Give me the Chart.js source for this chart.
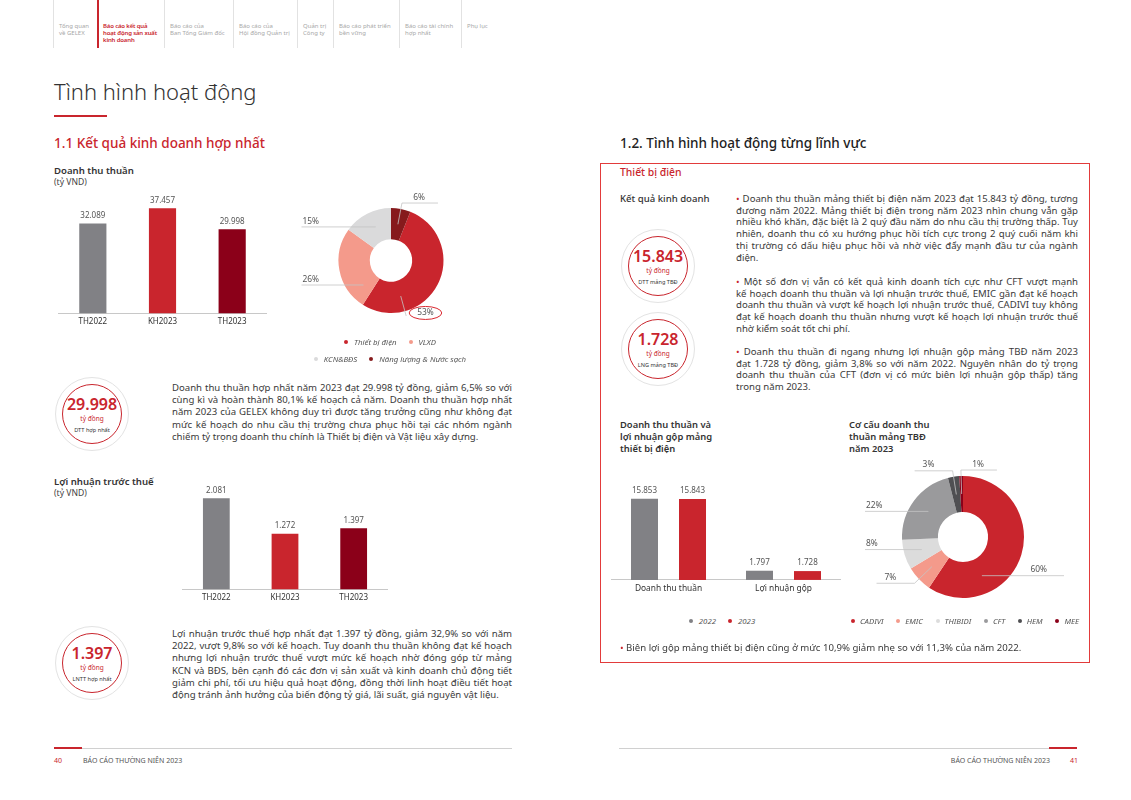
<!DOCTYPE html>
<html>
<head>
<meta charset="utf-8">
<script src="https://cdn.jsdelivr.net/npm/chart.js@4.4.1/dist/chart.umd.min.js"></script>
<style>
  html, body { margin:0; padding:0; background:#fff; }
  body { width:1131px; height:800px; position:relative; overflow:hidden; font-family:'Noto Sans', sans-serif; color:#3a3a3a; }
  .abs { position:absolute; }
  .nav { position:absolute; top:0; height:48px; border-left:1px solid #e2e2e2; padding-left:5px; font-size:6px; line-height:7.2px; color:#a8a8a8; box-sizing:border-box; padding-top:23px; white-space:nowrap; }
  .nav.on { border-left:2px solid #c9252d; color:#c9252d; font-weight:600; letter-spacing:-0.15px; padding-left:4px; }
  .para { position:absolute; font-size:9.6px; line-height:12.2px; color:#3a3a3a; }
  .para .j { text-align:justify; text-align-last:justify; }
  .badge { position:absolute; width:74px; height:74px; border-radius:50%; border:1.2px solid #e3e3e3; box-sizing:border-box; }
  .badge .in { position:absolute; left:6px; top:6px; width:60px; height:60px; border-radius:50%; border:1.2px solid #c9252d; box-sizing:border-box; text-align:center; }
  .badge .num { color:#c9252d; font-weight:600; font-size:16px; line-height:19px; margin-top:10px; }
  .badge .unit { color:#c9252d; font-size:6.5px; line-height:9px; }
  .badge .cap { color:#333; font-size:5.6px; line-height:8px; margin-top:3px; }
  .legend { position:absolute; display:flex; flex-wrap:wrap; justify-content:center; font-size:7.8px; font-style:italic; color:#555; }
  .legend span { display:inline-flex; align-items:center; margin:0 6px; white-space:nowrap; }
  .legend i { display:inline-block; width:4px; height:4px; border-radius:50%; margin-right:6px; }
  .legend b { flex-basis:100%; height:7px; }
  .legend.tight { flex-wrap:nowrap; justify-content:space-between; }
  .legend.tight span { margin:0; }
  .legend.tight i { margin-right:5px; }
  .box { position:absolute; left:600px; top:163px; width:490px; height:500px; border:1px solid #e23b3b; box-sizing:border-box; }
</style>
</head>
<body>

<!-- top navigation -->
<div class="nav" style="left:53px;width:44px">Tổng quan<br>về GELEX</div>
<div class="nav on" style="left:97px;width:67px">Báo cáo kết quả<br>hoạt động sản xuất<br>kinh doanh</div>
<div class="nav" style="left:164px;width:69px">Báo cáo của<br>Ban Tổng Giám đốc</div>
<div class="nav" style="left:233px;width:64px">Báo cáo của<br>Hội đồng Quản trị</div>
<div class="nav" style="left:297px;width:36px">Quản trị<br>Công ty</div>
<div class="nav" style="left:333px;width:66px">Báo cáo phát triển<br>bền vững</div>
<div class="nav" style="left:399px;width:62px">Báo cáo tài chính<br>hợp nhất</div>
<div class="nav" style="left:461px;width:40px">Phụ lục</div>

<div class="abs" style="left:54px;top:76px;font-size:22px;font-weight:300;color:#333;">Tình hình hoạt động</div>
<div class="abs" style="left:54px;top:115px;width:53px;height:2px;background:#c9252d"></div>

<div class="abs" style="left:54px;top:134px;font-size:13.5px;color:#c9252d;font-weight:500">1.1 Kết quả kinh doanh hợp nhất</div>
<div class="abs" style="left:620px;top:134px;font-size:13.5px;color:#222;font-weight:500">1.2. Tình hình hoạt động từng lĩnh vực</div>

<!-- left: DTT -->
<div class="abs" style="left:54px;top:164px;font-size:9.6px;font-weight:600;color:#333">Doanh thu thuần</div>
<div class="abs" style="left:54px;top:176px;font-size:8.6px;color:#444">(tỷ VND)</div>
<div class="abs" style="left:58px;top:190px;width:209px;height:141px"><canvas id="dtt"></canvas></div>

<div class="abs" style="left:291px;top:180px;width:200px;height:161px"><canvas id="seg"></canvas></div>
<div class="legend" id="segLeg" style="left:285px;top:337px;width:210px"></div>

<div class="badge" style="left:55px;top:377px"><div class="in"><div class="num">29.998</div><div class="unit">tỷ đồng</div><div class="cap">DTT hợp nhất</div></div></div>
<div class="para" style="left:172px;top:382px;width:340px">
  <div class="j">Doanh thu thuần hợp nhất năm 2023 đạt 29.998 tỷ đồng, giảm 6,5% so với</div>
  <div class="j">cùng kì và hoàn thành 80,1% kế hoạch cả năm. Doanh thu thuần hợp nhất</div>
  <div class="j">năm 2023 của GELEX không duy trì được tăng trưởng cũng như không đạt</div>
  <div class="j">mức kế hoạch do nhu cầu thị trường chưa phục hồi tại các nhóm ngành</div>
  <div>chiếm tỷ trọng doanh thu chính là Thiết bị điện và Vật liệu xây dựng.</div>
</div>

<!-- left: LNTT -->
<div class="abs" style="left:54px;top:475px;font-size:9.6px;font-weight:600;color:#333">Lợi nhuận trước thuế</div>
<div class="abs" style="left:54px;top:487px;font-size:8.6px;color:#444">(tỷ VND)</div>
<div class="abs" style="left:182px;top:480px;width:206px;height:127px"><canvas id="lntt"></canvas></div>

<div class="badge" style="left:55px;top:626px"><div class="in"><div class="num">1.397</div><div class="unit">tỷ đồng</div><div class="cap">LNTT hợp nhất</div></div></div>
<div class="para" style="left:172px;top:628px;width:340px">
  <div class="j">Lợi nhuận trước thuế hợp nhất đạt 1.397 tỷ đồng, giảm 32,9% so với năm</div>
  <div class="j">2022, vượt 9,8% so với kế hoạch. Tuy doanh thu thuần không đạt kế hoạch</div>
  <div class="j">nhưng lợi nhuận trước thuế vượt mức kế hoạch nhờ đóng góp từ mảng</div>
  <div class="j">KCN và BĐS, bên cạnh đó các đơn vị sản xuất và kinh doanh chủ động tiết</div>
  <div class="j">giảm chi phí, tối ưu hiệu quả hoạt động, đồng thời linh hoạt điều tiết hoạt</div>
  <div>động tránh ảnh hưởng của biến động tỷ giá, lãi suất, giá nguyên vật liệu.</div>
</div>

<!-- right box -->
<div class="box"></div>
<div class="abs" style="left:620px;top:165px;font-size:10.4px;color:#c9252d;font-weight:500">Thiết bị điện</div>
<div class="abs" style="left:620px;top:192px;font-size:9.6px;color:#333;font-weight:500">Kết quả kinh doanh</div>

<div class="badge" style="left:621px;top:229px"><div class="in"><div class="num">15.843</div><div class="unit">tỷ đồng</div><div class="cap">DTT mảng TBĐ</div></div></div>
<div class="badge" style="left:621px;top:312px"><div class="in"><div class="num">1.728</div><div class="unit">tỷ đồng</div><div class="cap">LNG mảng TBĐ</div></div></div>

<div class="para" style="left:736px;top:193px;width:342px;line-height:11.7px">
  <div class="j"><span style="color:#c9252d">•</span> Doanh thu thuần mảng thiết bị điện năm 2023 đạt 15.843 tỷ đồng, tương</div>
  <div class="j">đương năm 2022. Mảng thiết bị điện trong năm 2023 nhìn chung vẫn gặp</div>
  <div class="j">nhiều khó khăn, đặc biệt là 2 quý đầu năm do nhu cầu thị trường thấp. Tuy</div>
  <div class="j">nhiên, doanh thu có xu hướng phục hồi tích cực trong 2 quý cuối năm khi</div>
  <div class="j">thị trường có dấu hiệu phục hồi và nhờ việc đẩy mạnh đầu tư của ngành</div>
  <div>điện.</div>
</div>
<div class="para" style="left:736px;top:276px;width:342px;line-height:11.7px">
  <div class="j"><span style="color:#c9252d">•</span> Một số đơn vị vẫn có kết quả kinh doanh tích cực như CFT vượt mạnh</div>
  <div class="j">kế hoạch doanh thu thuần và lợi nhuận trước thuế, EMIC gần đạt kế hoạch</div>
  <div class="j">doanh thu thuần và vượt kế hoạch lợi nhuận trước thuế, CADIVI tuy không</div>
  <div class="j">đạt kế hoạch doanh thu thuần nhưng vượt kế hoạch lợi nhuận trước thuế</div>
  <div>nhờ kiểm soát tốt chi phí.</div>
</div>
<div class="para" style="left:736px;top:346px;width:342px;line-height:11.7px">
  <div class="j"><span style="color:#c9252d">•</span> Doanh thu thuần đi ngang nhưng lợi nhuận gộp mảng TBĐ năm 2023</div>
  <div class="j">đạt 1.728 tỷ đồng, giảm 3,8% so với năm 2022. Nguyên nhân do tỷ trọng</div>
  <div class="j">doanh thu thuần của CFT (đơn vị có mức biên lợi nhuận gộp thấp) tăng</div>
  <div>trong năm 2023.</div>
</div>

<div class="abs" style="left:620px;top:419px;font-size:9.4px;line-height:12px;font-weight:600;color:#333">Doanh thu thuần và<br>lợi nhuận gộp mảng<br>thiết bị điện</div>
<div class="abs" style="left:611px;top:470px;width:230px;height:128px"><canvas id="tbd"></canvas></div>
<div class="legend" id="tbdLeg" style="left:642px;top:616px;width:160px"></div>

<div class="abs" style="left:849px;top:419px;font-size:9.4px;line-height:12px;font-weight:600;color:#333">Cơ cấu doanh thu<br>thuần mảng TBĐ<br>năm 2023</div>
<div class="abs" style="left:853px;top:447px;width:220px;height:180px"><canvas id="cocau"></canvas></div>
<div class="legend tight" id="cocauLeg" style="left:851px;top:616px;width:228px"></div>

<div class="para" style="left:620px;top:642px;width:460px"><span style="color:#c9252d">•</span> Biên lợi gộp mảng thiết bị điện cũng ở mức 10,9% giảm nhẹ so với 11,3% của năm 2022.</div>

<!-- footer -->
<div class="abs" style="left:54px;top:748px;width:458px;height:1px;background:#d0d0d0"></div>
<div class="abs" style="left:54px;top:747px;width:28px;height:2px;background:#c9252d"></div>
<div class="abs" style="left:54px;top:756px;font-size:7px;color:#c9252d">40</div>
<div class="abs" style="left:83px;top:756px;font-size:7px;color:#555">BÁO CÁO THƯỜNG NIÊN 2023</div>
<div class="abs" style="left:619px;top:748px;width:458px;height:1px;background:#d0d0d0"></div>
<div class="abs" style="left:1049px;top:747px;width:28px;height:2px;background:#c9252d"></div>
<div class="abs" style="left:900px;top:756px;width:150px;text-align:right;font-size:7px;color:#555">BÁO CÁO THƯỜNG NIÊN 2023</div>
<div class="abs" style="left:1070px;top:756px;font-size:7px;color:#c9252d">41</div>

<script>
// ---- data ----
const years = ['TH2022', 'KH2023', 'TH2023'];
const dttValues = [32089, 37457, 29998];
const lnttValues = [2081, 1272, 1397];
const yearColors = ['#818185', '#c9252d', '#8b0019'];

const segLabels = ['Thiết bị điện', 'VLXD', 'KCN&BĐS', 'Năng lượng & Nước sạch'];
const segValues = [53, 26, 15, 6];   // %
const segColors = ['#c9252d', '#f49a8b', '#dadadb', '#861a1c'];

const tbdCats = ['Doanh thu thuần', 'Lợi nhuận gộp'];
const tbdYears = ['2022', '2023'];
const tbd2022 = [15853, 1797];
const tbd2023 = [15843, 1728];
const tbdColors = ['#818185', '#c9252d'];

const cocauLabels = ['CADIVI', 'EMIC', 'THIBIDI', 'CFT', 'HEM', 'MEE'];
const cocauValues = [60, 7, 8, 22, 3, 1];   // %
const cocauColors = ['#c9252d', '#f49a8b', '#dcdcdc', '#9a9a9c', '#4f4f52', '#8b0019'];

Chart.defaults.font.family = "'Noto Sans', sans-serif";
Chart.defaults.color = '#333';

const fmt = v => String(v).replace(/\B(?=(\d{3})+(?!\d))/g, '.');

// value above each bar
const valueLabels = {
    id: 'valueLabels',
    afterDatasetsDraw(chart) {
        const ctx = chart.ctx;
        ctx.save();
        ctx.font = "8px 'Noto Sans'";
        ctx.fillStyle = '#555';
        ctx.textAlign = 'center';
        ctx.textBaseline = 'bottom';
        chart.data.datasets.forEach((ds, i) => {
            chart.getDatasetMeta(i).data.forEach((bar, j) => {
                ctx.fillText(fmt(ds.data[j]), bar.x, bar.y - 4);
            });
        });
        ctx.restore();
    }
};

// percent labels with leader lines
const donutLabels = {
    id: 'donutLabels',
    afterDatasetsDraw(chart, args, opts) {
        const ctx = chart.ctx;
        const ds = chart.data.datasets[0];
        ctx.save();
        ctx.font = "8.4px 'Noto Sans'";
        ctx.fillStyle = '#555';
        ctx.strokeStyle = '#c4c4c4';
        ctx.lineWidth = 0.8;
        ctx.textBaseline = 'bottom';
        chart.getDatasetMeta(0).data.forEach((arc, i) => {
            const p = arc.getProps(['x', 'y', 'startAngle', 'endAngle', 'innerRadius', 'outerRadius'], true);
            const f = (opts.fracs && opts.fracs[i] != null) ? opts.fracs[i] : 0.5;
            const a = p.startAngle + (p.endAngle - p.startAngle) * f;
            const dx = Math.cos(a), dy = Math.sin(a);
            let right = dx >= 0;
            if (opts.sides && opts.sides[i] != null) right = opts.sides[i] > 0;
            const rm = (p.innerRadius + p.outerRadius) / 2;
            const txt = ds.data[i] + '%';
            const w = ctx.measureText(txt).width;
            const pts = [[p.x + rm * dx, p.y + rm * dy]];
            let endX, ly, tx;
            if (opts.ring === i) {
                // circled label, short leader only
                const qx = p.x + (p.outerRadius + 5) * dx, qy = p.y + (p.outerRadius + 5) * dy;
                ctx.beginPath();
                ctx.moveTo(pts[0][0], pts[0][1]);
                ctx.lineTo(qx, qy);
                ctx.stroke();
                ctx.textAlign = 'left';
                tx = qx + 11;
                const ty = qy - 3;
                ctx.textBaseline = 'middle';
                ctx.fillText(txt, tx, ty);
                ctx.textBaseline = 'bottom';
                ctx.save();
                ctx.strokeStyle = '#d9262e';
                ctx.lineWidth = 1;
                ctx.beginPath();
                ctx.ellipse(tx + w / 2, ty, w / 2 + 8, 6.5, 0, 0, Math.PI * 2);
                ctx.stroke();
                ctx.restore();
                return;
            }
            const elbow = Math.abs(dy) > 0.93 || (opts.elbow && opts.elbow[i]);
            if (elbow) {
                const qx = p.x + (p.outerRadius + 6) * dx, qy = p.y + (p.outerRadius + 6) * dy;
                pts.push([qx, qy]);
                endX = right ? qx + 36 : qx - 38;
                ly = qy;
            } else {
                ly = pts[0][1];
                endX = right ? p.x + p.outerRadius + 40 : p.x - p.outerRadius - 37;
            }
            pts.push([endX, ly]);
            ctx.beginPath();
            ctx.moveTo(pts[0][0], pts[0][1]);
            pts.slice(1).forEach(q => ctx.lineTo(q[0], q[1]));
            ctx.stroke();
            if (right) { ctx.textAlign = 'right'; tx = endX - (elbow ? 13 : 17); }
            else { ctx.textAlign = 'left'; tx = endX + (elbow ? 8 : 1); }
            ctx.fillText(txt, tx, ly - 1.5);
        });
        ctx.restore();
    }
};

const barOptions = (max) => ({
    responsive: true,
    maintainAspectRatio: false,
    animation: false,
    layout: { padding: 0 },
    plugins: { legend: { display: false }, tooltip: { enabled: false } },
    scales: {
        x: {
            grid: { display: false, drawTicks: false },
            border: { color: '#c8c8c8' },
            ticks: { color: '#333', font: { size: 8 }, padding: 4 }
        },
        y: { display: false, min: 0, max: max }
    }
});

new Chart(document.getElementById('dtt'), {
    type: 'bar',
    data: { labels: years, datasets: [{ data: dttValues, backgroundColor: yearColors, barPercentage: 0.39, categoryPercentage: 1 }] },
    options: barOptions(44000),
    plugins: [valueLabels]
});

new Chart(document.getElementById('lntt'), {
    type: 'bar',
    data: { labels: years, datasets: [{ data: lnttValues, backgroundColor: yearColors, barPercentage: 0.39, categoryPercentage: 1 }] },
    options: barOptions(2500),
    plugins: [valueLabels]
});

const tbdOpts = barOptions(21500);
tbdOpts.scales.x.ticks.font.size = 8.4;
new Chart(document.getElementById('tbd'), {
    type: 'bar',
    data: {
        labels: tbdCats,
        datasets: [
            { label: tbdYears[0], data: tbd2022, backgroundColor: tbdColors[0], barPercentage: 0.5625, categoryPercentage: 0.835 },
            { label: tbdYears[1], data: tbd2023, backgroundColor: tbdColors[1], barPercentage: 0.5625, categoryPercentage: 0.835 }
        ]
    },
    options: tbdOpts,
    plugins: [valueLabels]
});

const donutOptions = (radius, cutout, rotation, labelOpts) => ({
    responsive: true,
    maintainAspectRatio: false,
    animation: false,
    radius: radius,
    cutout: cutout,
    rotation: rotation,
    layout: { padding: 0 },
    plugins: { legend: { display: false }, tooltip: { enabled: false }, donutLabels: labelOpts }
});

new Chart(document.getElementById('seg'), {
    type: 'doughnut',
    data: { labels: segLabels, datasets: [{ data: segValues, backgroundColor: segColors, borderWidth: 0 }] },
    options: donutOptions(52.5, 32.5, 21.6, { fracs: [0.75, 0.17, 0.55, 0.5], ring: 0 }),
    plugins: [donutLabels]
});

new Chart(document.getElementById('cocau'), {
    type: 'doughnut',
    data: { labels: cocauLabels, datasets: [{ data: cocauValues, backgroundColor: cocauColors, borderWidth: 0 }] },
    options: donutOptions(61, 37, 0, { fracs: [0.72, 0.5, 0.5, 0.5, 0.5, 0.5], sides: { 5: 1 }, elbow: { 1: true } }),
    plugins: [donutLabels]
});

// html legends
function legend(id, labels, colors, breakAfter) {
    const el = document.getElementById(id);
    labels.forEach((l, i) => {
        const s = document.createElement('span');
        s.innerHTML = '<i style="background:' + colors[i] + '"></i>' + l;
        el.appendChild(s);
        if (i === breakAfter) el.appendChild(document.createElement('b'));
    });
}
legend('segLeg', segLabels, segColors, 1);
legend('tbdLeg', tbdYears, tbdColors);
legend('cocauLeg', cocauLabels, cocauColors);
</script>
</body>
</html>
